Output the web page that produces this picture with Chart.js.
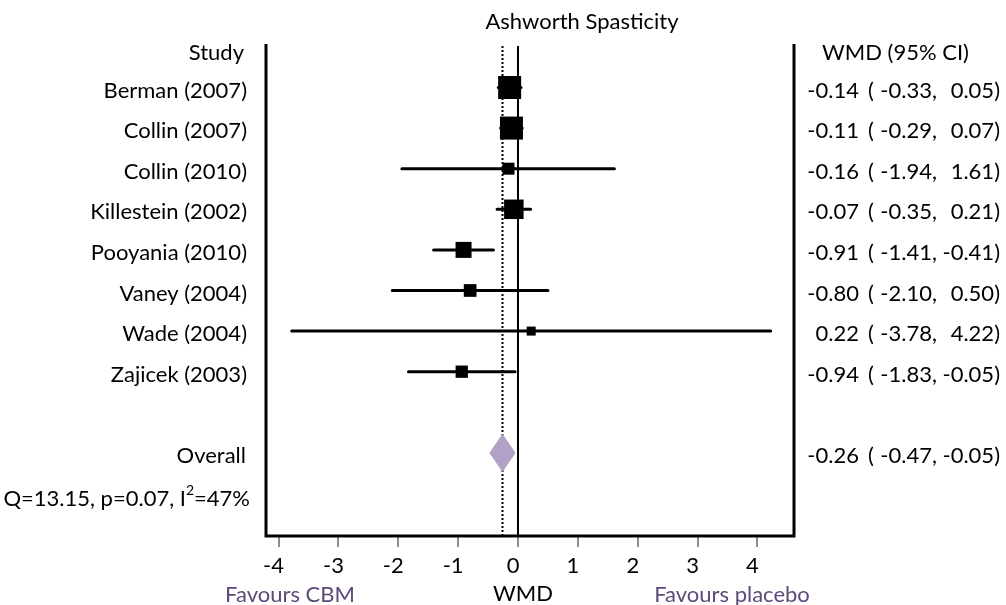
<!DOCTYPE html>
<html><head><meta charset="utf-8">
<script src="https://cdn.jsdelivr.net/npm/chart.js@4"></script>
<style>html,body{margin:0;padding:0;background:#fff;} #wrap{width:1006px;height:605px;}</style>
</head><body><div id="wrap"><canvas id="c" width="1006" height="605"></canvas></div>
<script>
// ---- data ----
const studies = ['Berman (2007)', 'Collin (2007)', 'Collin (2010)', 'Killestein (2002)', 'Pooyania (2010)', 'Vaney (2004)', 'Wade (2004)', 'Zajicek (2003)'];
const wmd   = [-0.14, -0.11, -0.16, -0.07, -0.91, -0.80, 0.22, -0.94];
const lower = [-0.33, -0.29, -1.94, -0.35, -1.41, -2.10, -3.78, -1.83];
const upper = [ 0.05,  0.07,  1.61,  0.21, -0.41,  0.50,  4.22, -0.05];
const overallLabel = 'Overall';
const overallValues = [-0.26, -0.47, -0.05]; // estimate, lower, upper
const heterogeneity = ['Q=13.15, p=0.07, I', '2', '=47%'];
const xTicks = [-4, -3, -2, -1, 0, 1, 2, 3, 4];
const chartTitle = 'Ashworth Spasticity';
const xTitle = 'WMD';
const leftNote = 'Favours CBM';
const rightNote = 'Favours placebo';
const studyHeader = 'Study';
const ciHeader = 'WMD (95% CI)';

// ---- layout / style ----
const boxSides = [23, 23, 12, 19.5, 16, 12.7, 9, 12.3]; // marker side in px (study weight)
const OVERALL_ROW = 9, HEADER_ROW = -0.93, Q_ROW = 10.05;
const Y_MIN = -1.071, Y_MAX = 11.047;
const DIAMOND_HALF = 0.455;
const FONT = '22px Lato';
const PURPLE = '#5f497a';
const TEXT_DY = 3;

function fmt(v){ return v.toFixed(2); }

const ciData = [];
studies.forEach((s, i) => { ciData.push({x: lower[i], y: i}, {x: upper[i], y: i}, {x: null, y: null}); });
const boxData = studies.map((s, i) => ({x: wmd[i], y: i}));
const diamondData = [
  {x: overallValues[1], y: OVERALL_ROW},
  {x: overallValues[0], y: OVERALL_ROW - DIAMOND_HALF},
  {x: overallValues[2], y: OVERALL_ROW},
  {x: overallValues[0], y: OVERALL_ROW + DIAMOND_HALF},
  {x: overallValues[1], y: OVERALL_ROW}
];

const decor = {
  id: 'decor',
  beforeDatasetsDraw(chart) {
    const ctx = chart.ctx, ca = chart.chartArea, xs = chart.scales.x;
    ctx.save();
    ctx.strokeStyle = '#000';
    ctx.lineWidth = 2;
    const x0 = Math.round(xs.getPixelForValue(0));
    ctx.beginPath(); ctx.moveTo(x0, ca.top + 2); ctx.lineTo(x0, ca.bottom); ctx.stroke();
    const xd = Math.round(xs.getPixelForValue(overallValues[0])) + 0.5;
    ctx.setLineDash([2, 2]);
    ctx.lineWidth = 2;
    ctx.beginPath(); ctx.moveTo(xd, ca.top + 2); ctx.lineTo(xd, ca.bottom); ctx.stroke();
    ctx.restore();
  },
  afterDraw(chart) {
    const ctx = chart.ctx, ca = chart.chartArea, xs = chart.scales.x, ys = chart.scales.y;
    ctx.save();
    // frame (left, bottom, right)
    ctx.strokeStyle = '#000'; ctx.lineWidth = 3; ctx.lineJoin = 'miter';
    ctx.beginPath();
    ctx.moveTo(ca.left, ca.top); ctx.lineTo(ca.left, ca.bottom);
    ctx.lineTo(ca.right, ca.bottom); ctx.lineTo(ca.right, ca.top);
    ctx.stroke();

    ctx.fillStyle = '#000';
    ctx.font = FONT;
    ctx.textBaseline = 'middle';
    // title
    ctx.textAlign = 'center';
    ctx.fillText(chartTitle, 582, 22);
    // left labels
    ctx.textAlign = 'right';
    const LX = 247;
    ctx.fillText(studyHeader, LX - 3, ys.getPixelForValue(HEADER_ROW) + TEXT_DY);
    studies.forEach((s, i) => ctx.fillText(s, LX, ys.getPixelForValue(i) + TEXT_DY));
    ctx.fillText(overallLabel, LX - 1, ys.getPixelForValue(OVERALL_ROW) + TEXT_DY);
    // heterogeneity with superscript
    const qy = ys.getPixelForValue(Q_ROW) + TEXT_DY;
    ctx.font = FONT; const w1 = ctx.measureText(heterogeneity[0]).width;
    ctx.font = '14px Lato'; const w2 = ctx.measureText(heterogeneity[1]).width;
    ctx.font = FONT; const w3 = ctx.measureText(heterogeneity[2]).width;
    let qx = 250 - (w1 + w2 + w3);
    ctx.textAlign = 'left';
    ctx.fillText(heterogeneity[0], qx, qy); qx += w1;
    ctx.font = '14px Lato'; ctx.fillText(heterogeneity[1], qx, qy - 8); qx += w2;
    ctx.font = FONT; ctx.fillText(heterogeneity[2], qx, qy);
    // right column
    ctx.textAlign = 'left';
    ctx.fillText(ciHeader, 822, ys.getPixelForValue(HEADER_ROW) + TEXT_DY);
    const rows = studies.map((s, i) => [i, wmd[i], lower[i], upper[i]]);
    rows.push([OVERALL_ROW, overallValues[0], overallValues[1], overallValues[2]]);
    rows.forEach(r => {
      const y = ys.getPixelForValue(r[0]) + TEXT_DY;
      ctx.textAlign = 'right'; ctx.fillText(fmt(r[1]), 859, y);
      ctx.textAlign = 'left'; ctx.fillText('(', 868, y);
      ctx.textAlign = 'right'; ctx.fillText(fmt(r[2]) + ',', 937, y);
      ctx.fillText(fmt(r[3]) + ')', 1000, y);
    });
    // axis title and notes
    ctx.textAlign = 'center';
    ctx.fillText(xTitle, 523, 594);
    ctx.fillStyle = PURPLE;
    ctx.fillText(leftNote, 290, 595);
    ctx.fillText(rightNote, 732, 595);
    ctx.restore();
  }
};

function build() {
  new Chart(document.getElementById('c'), {
    type: 'scatter',
    data: {
      datasets: [
        { data: boxData, pointStyle: 'rect', pointRadius: boxSides.map(s => s / Math.SQRT2),
          backgroundColor: '#000', borderColor: '#000', borderWidth: 0, showLine: false },
        { data: ciData, showLine: true, spanGaps: false, pointRadius: 0, borderColor: '#000',
          borderWidth: 3, borderCapStyle: 'round' },
        { data: diamondData, showLine: true, pointRadius: 0, fill: 'shape', tension: 0,
          backgroundColor: '#b2a1c7', borderColor: '#b2a1c7', borderWidth: 1 }
      ]
    },
    options: {
      responsive: false,
      devicePixelRatio: 1,
      animation: false,
      events: [],
      layout: { padding: { left: 266, right: 212, top: 44, bottom: 0 } },
      plugins: { legend: { display: false }, tooltip: { enabled: false }, title: { display: false } },
      scales: {
        x: {
          type: 'linear', position: 'bottom', min: -4.21, max: 4.61,
          afterBuildTicks: (scale) => { scale.ticks = xTicks.map(v => ({ value: v })); },
          afterFit: (scale) => { scale.height = 69; },
          border: { display: false },
          grid: { display: true, drawOnChartArea: false, drawTicks: true, tickLength: 11, color: '#8c8c8c', lineWidth: 2 },
          ticks: { font: { family: 'Lato', size: 22 }, color: '#000', padding: 6, labelOffset: -5,
                   maxRotation: 0, autoSkip: false, callback: (v) => String(v) }
        },
        y: { type: 'linear', display: false, reverse: true, min: Y_MIN, max: Y_MAX }
      }
    },
    plugins: [decor]
  });
}
if (document.fonts && document.fonts.load) {
  Promise.all([document.fonts.load('22px Lato'), document.fonts.load('14px Lato')]).then(build, build);
} else { build(); }
</script></body></html>
